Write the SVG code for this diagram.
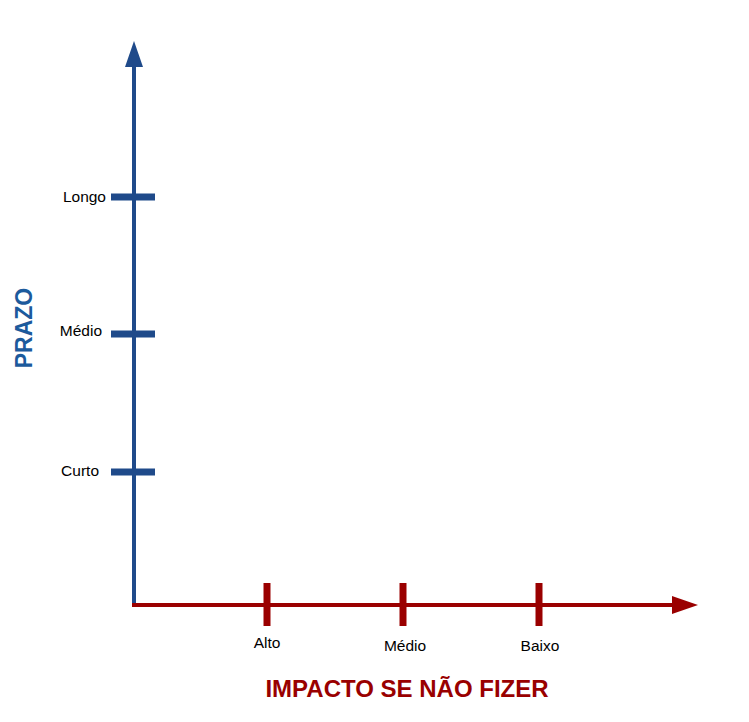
<svg xmlns="http://www.w3.org/2000/svg" width="749" height="722" viewBox="0 0 749 722">
<style>
.lbl{font-family:"Liberation Sans",Arial,sans-serif;font-size:15.5px;fill:#000}
.blue{stroke:#1f4a8a}
.red{stroke:#9a0000}
</style>
<rect width="749" height="722" fill="#fff"/>
<g id="connectors">
<line class="blue" x1="134" y1="606" x2="134" y2="64" stroke-width="4"/>
<polygon points="134,41 125,67 143,67" fill="#1f4a8a"/>
<line class="red" x1="132" y1="605" x2="674" y2="605" stroke-width="4"/>
<polygon points="698,605 672,596 672,614" fill="#9a0000"/>
</g>
<g id="y-ticks">
<line class="blue" x1="111" y1="197" x2="155" y2="197" stroke-width="7"/>
<line class="blue" x1="111" y1="334" x2="155" y2="334" stroke-width="7"/>
<line class="blue" x1="111" y1="472" x2="155" y2="472" stroke-width="7"/>
</g>
<g id="x-ticks">
<line class="red" x1="267" y1="583" x2="267" y2="626" stroke-width="7"/>
<line class="red" x1="403" y1="583" x2="403" y2="626" stroke-width="7"/>
<line class="red" x1="539" y1="583" x2="539" y2="626" stroke-width="7"/>
</g>
<g id="y-labels">
<text class="lbl" x="106" y="202" text-anchor="end">Longo</text>
<text class="lbl" x="102" y="336" text-anchor="end">Médio</text>
<text class="lbl" x="99" y="476" text-anchor="end">Curto</text>
</g>
<g id="x-labels">
<text class="lbl" x="267" y="648" text-anchor="middle">Alto</text>
<text class="lbl" x="405" y="651" text-anchor="middle">Médio</text>
<text class="lbl" x="540" y="651" text-anchor="middle">Baixo</text>
</g>
<g id="y-title">
<text x="0" y="0" transform="translate(32,328) rotate(-90)" text-anchor="middle" font-family="'Liberation Sans',Arial,sans-serif" font-weight="bold" font-size="23" fill="#1c5a9c">PRAZO</text>
</g>
<g id="x-title">
<text x="407" y="697" text-anchor="middle" font-family="'Liberation Sans',Arial,sans-serif" font-weight="bold" font-size="24" fill="#990000">IMPACTO SE NÃO FIZER</text>
</g>
</svg>
